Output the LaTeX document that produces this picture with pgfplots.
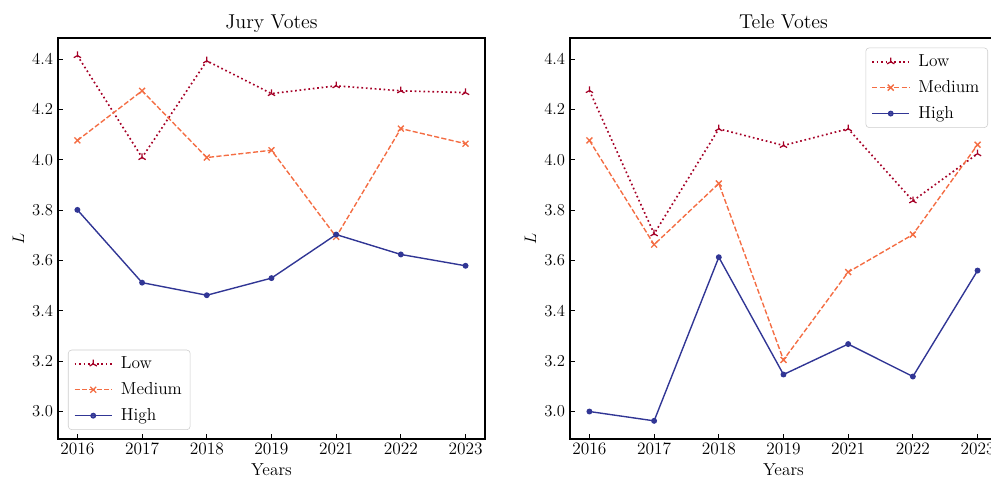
\documentclass[border=0pt]{standalone}
\usepackage{pgfplots}
\pgfplotsset{compat=1.18}
\definecolor{clow}{HTML}{A50026}
\definecolor{cmed}{HTML}{F46D43}
\definecolor{chigh}{HTML}{313695}
\newcommand{\tickfont}{\fontsize{12.5}{15}\selectfont}
\pgfplotsset{
  common/.style={
    scale only axis, width=307.4pt, height=288.7pt,
    xmin=-0.3, xmax=6.3, ymin=2.891, ymax=4.484,
    xtick={0,1,2,3,4,5,6},
    xticklabels={2016,2017,2018,2019,2021,2022,2023},
    ytick={3,3.2,3.4,3.6,3.8,4,4.2,4.4},
    yticklabel style={/pgf/number format/.cd,fixed,fixed zerofill,precision=1},
    tick label style={font=\tickfont},
    xticklabel style={yshift=1pt},
    tick align=inside, tick pos=left,
    major tick length=3.5pt,
    tick style={black, line width=0.8pt},
    axis line style={line width=0.8pt},
    xlabel={Years}, ylabel={$L$},
    label style={font=\tickfont},
    xlabel style={yshift=0.5pt},
    ylabel style={yshift=-1pt},
    title style={font=\fontsize{14.4}{17}\selectfont, at={(0.5,1)}, anchor=base, yshift=0.5pt},
    legend cell align=left,
    legend style={draw=black!20, rounded corners=2.5pt, fill=white, fill opacity=0.8, text opacity=1,
      font=\tickfont, row sep=4.5pt, inner xsep=4pt, inner ysep=3pt,
      /tikz/every odd column/.append style={column sep=4pt}},
    legend image code/.code={\draw[mark repeat=2,mark phase=2] plot coordinates {(0cm,0cm) (0.47cm,0cm) (0.94cm,0cm)};},
  },
  low/.style={clow, line width=1.2pt, dash pattern=on 1.2pt off 2pt, mark=Mercedes star, mark size=3pt, mark options={solid, line width=0.9pt}},
  med/.style={cmed, line width=1pt, dash pattern=on 3.7pt off 1.6pt, mark=x, mark size=3pt, mark options={solid, line width=1pt}},
  high/.style={chigh, line width=1pt, solid, mark=*, mark size=1.6pt, mark options={solid}},
}
\begin{document}
\begin{tikzpicture}
\begin{axis}[common, at={(41.76pt,27.36pt)}, anchor=south west, title={Jury Votes},
  legend style={at={(0.0234,0.0224)}, anchor=south west}]
\addplot[low] coordinates {(0,4.414) (1,4.009) (2,4.393) (3,4.263) (4,4.294) (5,4.274) (6,4.267)};
\addlegendentry{Low}
\addplot[med] coordinates {(0,4.077) (1,4.274) (2,4.009) (3,4.038) (4,3.694) (5,4.124) (6,4.064)};
\addlegendentry{Medium}
\addplot[high] coordinates {(0,3.801) (1,3.512) (2,3.462) (3,3.530) (4,3.703) (5,3.624) (6,3.579)};
\addlegendentry{High}
\end{axis}
\begin{axis}[common, at={(410.4pt,27.36pt)}, anchor=south west, title={Tele Votes},
  legend style={at={(0.979,0.976)}, anchor=north east}]
\addplot[low] coordinates {(0,4.275) (1,3.706) (2,4.123) (3,4.057) (4,4.123) (5,3.837) (6,4.024)};
\addlegendentry{Low}
\addplot[med] coordinates {(0,4.077) (1,3.663) (2,3.906) (3,3.205) (4,3.554) (5,3.703) (6,4.060)};
\addlegendentry{Medium}
\addplot[high] coordinates {(0,3.000) (1,2.963) (2,3.613) (3,3.147) (4,3.268) (5,3.139) (6,3.560)};
\addlegendentry{High}
\end{axis}
\pgfresetboundingbox
\useasboundingbox (0pt,0pt) rectangle (713.5pt,343.4pt);
\end{tikzpicture}
\end{document}
